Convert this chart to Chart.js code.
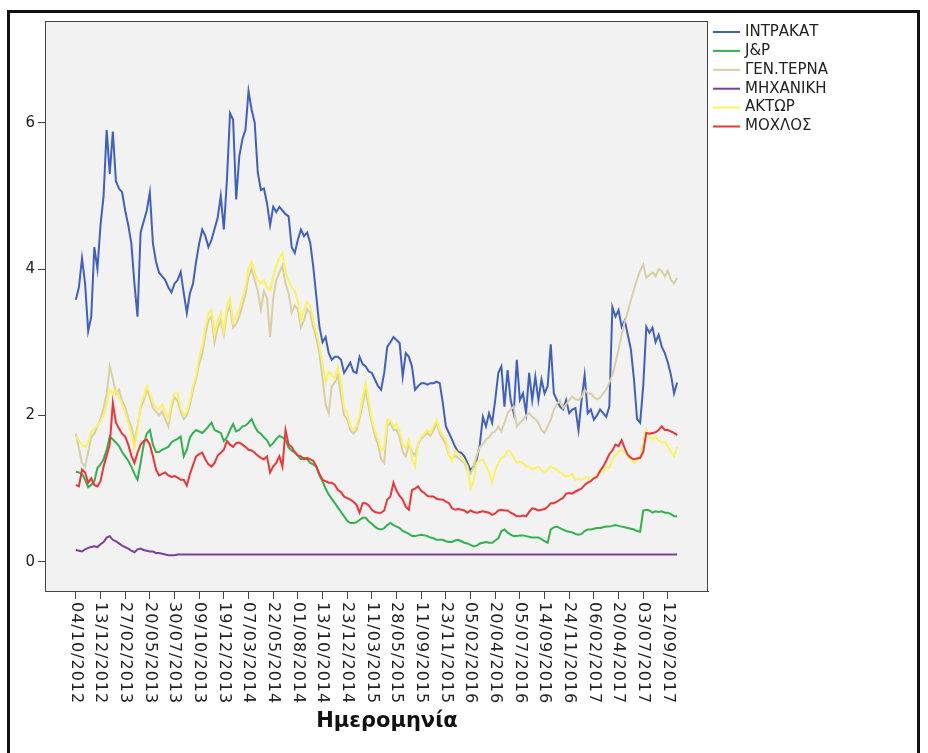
<!DOCTYPE html>
<html lang="el">
<head>
<meta charset="UTF-8">
<title>Μετοχές κατασκευαστικών</title>
<script src="https://cdn.jsdelivr.net/npm/chart.js@4.4.1/dist/chart.umd.min.js"></script>
<style>
    html, body { margin: 0; padding: 0; background: #fff; }
    canvas { display: block; }
</style>
</head>
<body>
<canvas id="graficoAcciones" width="928" height="753"></canvas>
<script>
// etiquetas del eje X (una cada 8 puntos)
const fechas = [
    '04/10/2012', '13/12/2012', '27/02/2013', '20/05/2013', '30/07/2013',
    '09/10/2013', '19/12/2013', '07/03/2014', '22/05/2014', '01/08/2014',
    '13/10/2014', '23/12/2014', '11/03/2015', '28/05/2015', '11/09/2015',
    '23/11/2015', '05/02/2016', '20/04/2016', '05/07/2016', '14/09/2016',
    '24/11/2016', '06/02/2017', '20/04/2017', '03/07/2017', '12/09/2017'
];
const puntosPorTramo = 8;
const ticksY = [0, 2, 4, 6];

const intrakat = [
    3.58, 3.75, 4.15, 3.8, 3.15, 3.35, 4.3, 4.0, 4.6, 5.0,
    5.9, 5.3, 5.88, 5.2, 5.1, 5.05, 4.8, 4.6, 4.35, 3.8,
    3.35, 4.5, 4.65, 4.8, 5.05, 4.35, 4.1, 3.95, 3.9, 3.85,
    3.75, 3.68, 3.8, 3.85, 3.96, 3.67, 3.4, 3.67, 3.8, 4.1,
    4.35, 4.54, 4.45, 4.3, 4.4, 4.55, 4.7, 5.0, 4.54, 5.22,
    6.13, 6.04, 4.95, 5.54, 5.77, 5.9, 6.43, 6.18, 6.0, 5.32,
    5.08, 5.1, 4.9, 4.6, 4.85, 4.78, 4.85, 4.8, 4.75, 4.72,
    4.3, 4.22, 4.4, 4.54, 4.45, 4.5, 4.36, 4.03, 3.62, 3.21,
    3.0, 3.07, 2.85, 2.76, 2.8, 2.8, 2.76, 2.58, 2.65, 2.72,
    2.6, 2.58, 2.8, 2.7, 2.67, 2.6, 2.58, 2.49, 2.4, 2.35,
    2.58, 2.94, 3.0, 3.07, 3.03, 2.99, 2.53, 2.85, 2.8, 2.67,
    2.35, 2.4, 2.44, 2.44, 2.42, 2.44, 2.44, 2.46, 2.44, 2.17,
    1.85, 1.76, 1.67, 1.57, 1.5, 1.49, 1.44, 1.35, 1.25, 1.3,
    1.4, 1.6, 1.98, 1.85, 2.03, 1.9, 2.21, 2.58, 2.67, 2.12,
    2.62, 2.21, 2.03, 2.76, 2.21, 2.3, 2.03, 2.58, 2.21, 2.53,
    2.21, 2.49, 2.3, 2.4, 2.97, 2.3, 2.21, 2.12, 2.08, 2.21,
    2.03, 2.08, 2.1, 1.8, 2.21, 2.55, 2.03, 2.08, 1.94, 2.0,
    2.08, 2.03, 1.98, 2.12, 3.48, 3.35, 3.44, 3.21, 3.3, 3.1,
    2.9, 2.49, 1.95, 1.9, 2.4, 3.21, 3.13, 3.2, 3.0, 3.1,
    2.94, 2.85, 2.72, 2.55, 2.3, 2.45
];

const jp = [
    1.23, 1.22, 1.2, 1.12, 1.02, 1.05, 1.1, 1.28, 1.33, 1.4,
    1.53, 1.71, 1.67, 1.63, 1.58, 1.5, 1.44, 1.38, 1.3, 1.2,
    1.12, 1.35, 1.6, 1.75, 1.8, 1.6, 1.5, 1.5, 1.53, 1.55,
    1.57, 1.63, 1.66, 1.68, 1.71, 1.44, 1.53, 1.7, 1.76, 1.8,
    1.78, 1.76, 1.8, 1.85, 1.9, 1.8, 1.78, 1.76, 1.65, 1.7,
    1.8, 1.88, 1.78, 1.8, 1.85, 1.86, 1.9, 1.95, 1.85, 1.78,
    1.75, 1.7, 1.66, 1.58, 1.62, 1.68, 1.72, 1.7, 1.67, 1.56,
    1.52, 1.49, 1.45, 1.4, 1.42, 1.4, 1.35, 1.33, 1.3, 1.18,
    1.1, 1.0, 0.92, 0.86, 0.8, 0.74, 0.68, 0.62, 0.56, 0.53,
    0.53, 0.54, 0.57, 0.6, 0.6, 0.55, 0.52, 0.48, 0.45, 0.44,
    0.46, 0.5, 0.53, 0.5, 0.48, 0.46, 0.42, 0.4, 0.38, 0.35,
    0.35, 0.36, 0.37, 0.36, 0.35, 0.33, 0.32, 0.3, 0.3, 0.3,
    0.28, 0.27, 0.27, 0.29, 0.3, 0.28, 0.26, 0.25, 0.23, 0.21,
    0.22, 0.25, 0.26, 0.27, 0.26, 0.26, 0.29, 0.32, 0.42, 0.44,
    0.4, 0.37, 0.35, 0.35, 0.36, 0.36, 0.35, 0.34, 0.33, 0.33,
    0.33, 0.31, 0.28, 0.26, 0.44, 0.47, 0.48, 0.46, 0.44, 0.42,
    0.41, 0.4, 0.38, 0.37, 0.38, 0.42, 0.44, 0.44, 0.45, 0.46,
    0.46, 0.47, 0.48, 0.48, 0.49, 0.5, 0.49, 0.48, 0.47, 0.46,
    0.45, 0.44, 0.42, 0.41, 0.7, 0.71, 0.7, 0.67, 0.69, 0.68,
    0.69, 0.67, 0.67, 0.65, 0.62, 0.62
];

const genTerna = [
    1.75, 1.55, 1.35, 1.3, 1.5, 1.7, 1.75, 1.85, 1.95, 2.1,
    2.3, 2.67, 2.5, 2.3, 2.35, 2.2, 2.12, 1.95, 1.85, 1.65,
    1.85, 2.1, 2.2, 2.35, 2.25, 2.1, 2.05, 2.0, 2.05, 1.95,
    1.85, 2.1, 2.25, 2.2, 2.05, 1.95, 2.0, 2.15, 2.35, 2.5,
    2.7, 2.85, 3.1, 3.3, 3.35, 3.0, 3.2, 3.3, 3.1, 3.4,
    3.5, 3.2, 3.25, 3.35, 3.5, 3.65, 3.9, 4.0, 3.85, 3.7,
    3.45, 3.7, 3.6, 3.07, 3.6, 3.85, 3.95, 4.05, 3.8, 3.67,
    3.4, 3.5, 3.45, 3.2, 3.3, 3.45, 3.4, 3.2, 3.05, 2.85,
    2.5, 2.15, 2.03, 2.4, 2.45, 2.55, 2.26, 2.0, 1.95, 1.8,
    1.75, 1.8, 1.95, 2.15, 2.35, 2.1, 1.9, 1.72, 1.6, 1.4,
    1.35, 1.85, 1.9, 1.8, 1.8, 1.7, 1.5, 1.44, 1.6, 1.5,
    1.45, 1.6, 1.68, 1.72, 1.76, 1.72, 1.8, 1.9, 1.75, 1.68,
    1.6, 1.45, 1.4, 1.45, 1.42, 1.38, 1.35, 1.25, 1.2, 1.3,
    1.45, 1.57, 1.6, 1.67, 1.7, 1.76, 1.78, 1.85, 1.78, 1.9,
    2.03, 2.08, 2.12, 1.85, 1.9, 1.94, 2.0, 2.03, 1.98, 1.95,
    1.9, 1.8, 1.76, 1.85, 1.94, 2.08, 2.15, 2.21, 2.1, 2.15,
    2.21, 2.26, 2.22, 2.21, 2.25, 2.35, 2.3, 2.3, 2.25, 2.22,
    2.24, 2.3, 2.35, 2.45, 2.55, 2.72, 2.9, 3.1, 3.28, 3.42,
    3.58, 3.72, 3.86, 3.98, 4.06, 3.88, 3.92, 3.95, 3.9, 4.0,
    3.97, 3.9, 3.98, 3.85, 3.8, 3.88
];

const mhxaniki = [
    0.16, 0.15, 0.14, 0.17, 0.19, 0.2, 0.21, 0.2, 0.24, 0.27,
    0.33, 0.35, 0.3, 0.28, 0.25, 0.22, 0.2, 0.18, 0.15, 0.13,
    0.17, 0.18, 0.16, 0.15, 0.14, 0.14, 0.12, 0.12, 0.11, 0.1,
    0.09, 0.09, 0.09, 0.1, 0.1, 0.1, 0.1, 0.1, 0.1, 0.1,
    0.1, 0.1, 0.1, 0.1, 0.1, 0.1, 0.1, 0.1, 0.1, 0.1,
    0.1, 0.1, 0.1, 0.1, 0.1, 0.1, 0.1, 0.1, 0.1, 0.1,
    0.1, 0.1, 0.1, 0.1, 0.1, 0.1, 0.1, 0.1, 0.1, 0.1,
    0.1, 0.1, 0.1, 0.1, 0.1, 0.1, 0.1, 0.1, 0.1, 0.1,
    0.1, 0.1, 0.1, 0.1, 0.1, 0.1, 0.1, 0.1, 0.1, 0.1,
    0.1, 0.1, 0.1, 0.1, 0.1, 0.1, 0.1, 0.1, 0.1, 0.1,
    0.1, 0.1, 0.1, 0.1, 0.1, 0.1, 0.1, 0.1, 0.1, 0.1,
    0.1, 0.1, 0.1, 0.1, 0.1, 0.1, 0.1, 0.1, 0.1, 0.1,
    0.1, 0.1, 0.1, 0.1, 0.1, 0.1, 0.1, 0.1, 0.1, 0.1,
    0.1, 0.1, 0.1, 0.1, 0.1, 0.1, 0.1, 0.1, 0.1, 0.1,
    0.1, 0.1, 0.1, 0.1, 0.1, 0.1, 0.1, 0.1, 0.1, 0.1,
    0.1, 0.1, 0.1, 0.1, 0.1, 0.1, 0.1, 0.1, 0.1, 0.1,
    0.1, 0.1, 0.1, 0.1, 0.1, 0.1, 0.1, 0.1, 0.1, 0.1,
    0.1, 0.1, 0.1, 0.1, 0.1, 0.1, 0.1, 0.1, 0.1, 0.1,
    0.1, 0.1, 0.1, 0.1, 0.1, 0.1, 0.1, 0.1, 0.1, 0.1,
    0.1, 0.1, 0.1, 0.1, 0.1, 0.1
];

const aktor = [
    1.71, 1.65, 1.6, 1.57, 1.62, 1.78, 1.82, 1.86, 1.92, 2.0,
    2.15, 2.35, 2.3, 2.35, 2.25, 2.15, 2.05, 1.9, 1.75, 1.55,
    1.8, 2.15, 2.25, 2.4, 2.3, 2.17, 2.1, 2.08, 2.15, 2.05,
    1.95, 2.17, 2.3, 2.3, 2.1, 2.0, 2.05, 2.21, 2.4, 2.55,
    2.8, 2.94, 3.2, 3.4, 3.44, 3.1, 3.3, 3.4, 3.15, 3.5,
    3.6, 3.27, 3.35, 3.45, 3.6, 3.75, 4.0, 4.1, 3.95, 3.85,
    3.8, 3.85, 3.75, 3.7, 3.9, 4.05, 4.15, 4.22, 3.95, 3.85,
    3.75, 3.7, 3.55, 3.3, 3.44, 3.55, 3.5, 3.3, 3.13, 2.95,
    2.7, 2.45, 2.6, 2.55, 2.5, 2.67, 2.45, 2.1, 2.03, 1.85,
    1.8, 1.85, 2.0, 2.25, 2.44, 2.2, 1.95, 1.78, 1.68, 1.52,
    1.55, 1.94, 1.94, 1.85, 1.88, 1.78, 1.6, 1.55, 1.67, 1.4,
    1.3, 1.62, 1.7, 1.75, 1.8, 1.76, 1.85, 1.94, 1.8, 1.72,
    1.67, 1.45, 1.38, 1.52, 1.48, 1.44, 1.38, 1.3, 1.0, 1.1,
    1.35, 1.38, 1.4, 1.32, 1.22, 1.08, 1.25, 1.35, 1.42, 1.44,
    1.52, 1.5, 1.42, 1.35, 1.37, 1.35, 1.3, 1.3, 1.26, 1.28,
    1.3, 1.25, 1.22, 1.26, 1.3, 1.28, 1.26, 1.22, 1.2, 1.16,
    1.18, 1.2, 1.12, 1.13, 1.12, 1.15, 1.16, 1.12, 1.15, 1.18,
    1.24, 1.22, 1.3, 1.28, 1.4, 1.46, 1.5, 1.53, 1.5, 1.45,
    1.4, 1.35, 1.38, 1.42, 1.6, 1.8, 1.72, 1.67, 1.71, 1.66,
    1.63, 1.64, 1.58, 1.5, 1.44, 1.57
];

const moxlos = [
    1.05, 1.03, 1.26, 1.22, 1.08, 1.14, 1.05, 1.03, 1.1, 1.3,
    1.45, 1.6, 2.17, 1.9, 1.82, 1.75, 1.71, 1.6, 1.45, 1.35,
    1.49, 1.6, 1.65, 1.67, 1.6, 1.44, 1.26, 1.18, 1.2, 1.22,
    1.18, 1.16, 1.17, 1.15, 1.12, 1.12, 1.04, 1.2, 1.32, 1.44,
    1.47, 1.49, 1.4, 1.33, 1.3, 1.35, 1.45, 1.49, 1.53, 1.65,
    1.6, 1.57, 1.62, 1.63, 1.6, 1.57, 1.53, 1.52, 1.49, 1.45,
    1.42, 1.4, 1.44, 1.22, 1.3, 1.35, 1.44, 1.3, 1.8, 1.6,
    1.57, 1.5, 1.45, 1.44, 1.4, 1.42, 1.4, 1.38, 1.3, 1.2,
    1.12, 1.1, 1.08, 1.08, 1.05, 0.98, 0.95, 0.89, 0.87, 0.85,
    0.82, 0.78, 0.67, 0.8, 0.8, 0.77, 0.71, 0.68, 0.67, 0.67,
    0.7, 0.85, 0.89, 1.08, 0.97, 0.9, 0.85, 0.75, 0.71, 0.98,
    1.0, 1.03, 0.97, 0.94, 0.9, 0.89, 0.89, 0.86, 0.85, 0.85,
    0.82, 0.8, 0.73, 0.71, 0.72, 0.71, 0.7, 0.67, 0.7, 0.68,
    0.67, 0.68, 0.69, 0.68, 0.67, 0.64, 0.66, 0.7, 0.71, 0.7,
    0.7, 0.67, 0.65, 0.62, 0.62, 0.63, 0.62, 0.68, 0.73, 0.72,
    0.7, 0.71, 0.72, 0.75, 0.8, 0.8, 0.82, 0.85, 0.87, 0.93,
    0.94, 0.93, 0.96, 0.98, 1.0, 1.05, 1.08, 1.1, 1.14, 1.16,
    1.24, 1.3, 1.38, 1.47, 1.52, 1.6, 1.58, 1.66, 1.55, 1.46,
    1.42, 1.4, 1.41, 1.42, 1.5, 1.76, 1.75, 1.76, 1.77, 1.8,
    1.85, 1.8, 1.8, 1.78, 1.76, 1.73
];

const nombres = ['ΙΝΤΡΑΚΑΤ', 'J&P', 'ΓΕΝ.ΤΕΡΝΑ', 'ΜΗΧΑΝΙΚΗ', 'ΑΚΤΩΡ', 'ΜΟΧΛΟΣ'];
const valores = [intrakat, jp, genTerna, mhxaniki, aktor, moxlos];
const colores = ['#4060c0', '#2fb34c', '#d9cfa2', '#7e3f98', '#fbf262', '#ee3535'];

const fuente = '"DejaVu Sans", Verdana, sans-serif';

// fondo gris, marco, etiquetas giradas, título y leyenda
const decorado = {
    id: 'decorado',
    beforeDraw(chart) {
        const { ctx, chartArea: a } = chart;
        ctx.save();
        ctx.fillStyle = '#ffffff';
        ctx.fillRect(0, 0, chart.width, chart.height);
        ctx.fillStyle = '#f2f2f2';
        ctx.fillRect(a.left, a.top, a.right - a.left, a.bottom - a.top);
        ctx.restore();
    },
    afterDraw(chart) {
        const { ctx, chartArea: a } = chart;
        const xs = chart.scales.x;
        ctx.save();

        ctx.strokeStyle = '#444';
        ctx.lineWidth = 1;
        ctx.strokeRect(a.left + 0.5, a.top + 0.5, a.right - a.left - 1, a.bottom - a.top);

        // fechas giradas 90 grados (se leen hacia abajo)
        ctx.fillStyle = '#222';
        ctx.font = '16px ' + fuente;
        ctx.letterSpacing = '1px';
        ctx.textAlign = 'left';
        ctx.textBaseline = 'middle';
        fechas.forEach((f, k) => {
            const px = xs.getPixelForValue(k * puntosPorTramo);
            ctx.save();
            ctx.translate(px, a.bottom + 11);
            ctx.rotate(Math.PI / 2);
            ctx.fillText(f, 0, 0);
            ctx.restore();
        });
        ctx.letterSpacing = '0px';

        ctx.font = 'bold 21px ' + fuente;
        ctx.textAlign = 'center';
        ctx.textBaseline = 'middle';
        ctx.fillStyle = '#111';
        ctx.fillText('Ημερομηνία', 387, 722);

        // leyenda
        ctx.font = '15px ' + fuente;
        ctx.textAlign = 'left';
        nombres.forEach((n, i) => {
            const y = 32 + i * 18.9;
            ctx.strokeStyle = colores[i];
            ctx.lineWidth = 2;
            ctx.beginPath();
            ctx.moveTo(713, y);
            ctx.lineTo(740, y);
            ctx.stroke();
            ctx.fillStyle = '#222';
            ctx.fillText(n, 745, y);
        });

        // marco exterior
        ctx.strokeStyle = '#111';
        ctx.lineWidth = 3;
        ctx.strokeRect(8.5, 11.5, 910, 800);
        ctx.restore();
    }
};

function dibujarGrafico() {
    const ctx = document.getElementById('graficoAcciones').getContext('2d');
    new Chart(ctx, {
        type: 'line',
        data: {
            datasets: nombres.map((n, i) => ({
                label: n,
                data: valores[i].map((v, j) => ({ x: j, y: v })),
                borderColor: colores[i],
                backgroundColor: colores[i],
                borderWidth: 2,
                pointRadius: 0,
                tension: 0,
                fill: false,
                order: nombres.length - i
            }))
        },
        options: {
            responsive: false,
            animation: false,
            devicePixelRatio: 1,
            events: [],
            layout: {
                padding: { left: 8, top: 21, right: 220, bottom: 0 }
            },
            scales: {
                x: {
                    type: 'linear',
                    min: -10,
                    max: 205,
                    afterBuildTicks: s => { s.ticks = fechas.map((f, k) => ({ value: k * puntosPorTramo })); },
                    afterFit: s => { s.height = 162; },
                    grid: { drawOnChartArea: false, drawTicks: true, tickLength: 8, color: '#444' },
                    border: { color: '#444' },
                    ticks: { display: false }
                },
                y: {
                    min: -0.4,
                    max: 7.39,
                    afterBuildTicks: s => { s.ticks = ticksY.map(v => ({ value: v })); },
                    afterFit: s => { s.width = 37; },
                    grid: { drawOnChartArea: false, drawTicks: true, tickLength: 7, color: '#444' },
                    border: { color: '#444' },
                    ticks: {
                        font: { family: fuente, size: 15 },
                        color: '#222',
                        padding: 3
                    }
                }
            },
            plugins: {
                legend: { display: false },
                tooltip: { enabled: false }
            }
        },
        plugins: [decorado]
    });
}

document.addEventListener('DOMContentLoaded', () => {
    dibujarGrafico();
});
</script>
</body>
</html>
